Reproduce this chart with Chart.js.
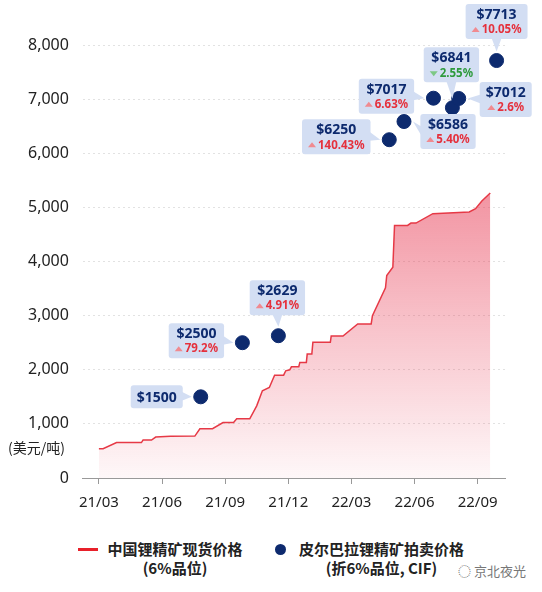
<!DOCTYPE html>
<html><head><meta charset="utf-8">
<script src="https://cdn.jsdelivr.net/npm/chart.js@4/dist/chart.umd.min.js"></script>
<style>
html,body{margin:0;padding:0;background:#fff;width:542px;height:592px;overflow:hidden;font-family:'Noto Sans','Noto Sans CJK SC',sans-serif;}
#wrap{position:absolute;left:0;top:0;width:542px;height:522px;}
.leg{position:absolute;font-weight:700;font-size:15px;color:#222;text-align:center;line-height:19px;font-family:'Noto Sans CJK SC',sans-serif;white-space:nowrap;}
</style></head><body>
<div id="wrap"><canvas id="c"></canvas></div>
<div style="position:absolute;left:78px;top:548px;width:20px;height:3px;background:#e8202a"></div>
<div class="leg" style="left:105px;top:539px;width:140px">中国锂精矿现货价格<br>(6%品位)</div>
<div style="position:absolute;left:275px;top:544px;width:11px;height:11px;border-radius:50%;background:#0d2a6e"></div>
<div class="leg" style="left:294px;top:539px;width:175px">皮尔巴拉锂精矿拍卖价格<br>(折6%品位, CIF)</div>
<div style="position:absolute;left:458px;top:561px;font-size:13px;color:#777;font-family:'Noto Sans CJK SC'">◌ 京北夜光</div>
<script>
// months since 2021/03
const spotMonths = [0,0.2,0.84,2.02,2.1,2.5,2.7,3.4,4.56,4.8,5.4,5.9,6.4,6.55,7.17,7.5,7.77,8.1,8.35,8.78,8.88,9.07,9.15,9.5,9.55,9.86,9.9,10.12,10.17,11.0,11.04,11.6,12.3,12.94,13.0,13.62,13.68,13.97,14.05,14.67,14.83,15.07,15.87,17.6,17.9,18.2,18.6];
const spotValues = [540,540,654,654,700,700,756,770,775,910,910,1025,1025,1093,1093,1333,1611,1673,1900,1900,1981,2000,2055,2055,2136,2136,2290,2290,2506,2506,2623,2623,2846,2846,3000,3512,3741,3895,4667,4667,4710,4710,4883,4914,4975,5117,5265];
const auctionMonths = [4.84,6.82,8.53,13.8,14.5,15.9,16.8,17.1,18.9];
const auctionValues = [1500,2500,2629,6250,6586,7017,6841,7012,7713];
const auctionChange = ['', '79.2%', '4.91%', '140.43%', '5.40%', '6.63%', '2.55%', '2.6%', '10.05%'];
const auctionDir = [0,1,1,1,1,1,-1,1,1];
const xTickMonths = [0,3,6,9,12,15,18];
const xTickLabels = ['21/03','21/06','21/09','21/12','22/03','22/06','22/09'];
// callout layout: center offset from dot, pointer side
const callout = [[-44,0,'r'],[-46,-2,'r'],[-1,-38,'d'],[-53,-3,'r'],[44,10,'l'],[-47,-2,'r'],[-1,-43,'d'],[47,1,'l'],[0,-39,'d']];

const NAVY='#0d2a6e', RED='#e5303c', GREEN='#2e9a3c', BOX='#d3def3';
function rr(ctx,x,y,w,h,r){ctx.beginPath();ctx.moveTo(x+r,y);ctx.arcTo(x+w,y,x+w,y+h,r);ctx.arcTo(x+w,y+h,x,y+h,r);ctx.arcTo(x,y+h,x,y,r);ctx.arcTo(x,y,x+w,y,r);ctx.closePath();}
const calloutPlugin={id:'callouts',afterDatasetsDraw(chart){
  const ctx=chart.ctx, xs=chart.scales.x, ys=chart.scales.y;
  ctx.save();
  ctx.font='14px "Noto Sans CJK SC"';ctx.fillStyle='#222';ctx.textAlign='left';ctx.textBaseline='middle';
  ctx.fillText('(美元/吨)',8,ys.getPixelForValue(1000)+24);
  auctionValues.forEach((v,i)=>{
    const px=xs.getPixelForValue(auctionMonths[i]), py=ys.getPixelForValue(v);
    const [dx,dy,side]=callout[i];
    const two=auctionChange[i]!=='';
    const label='$'+v;
    ctx.font='bold 14px "Noto Sans"';
    let w=Math.max(ctx.measureText(label).width+12,50);
    if(two){ctx.font='bold 11.5px "Noto Sans"';w=Math.max(w,ctx.measureText(auctionChange[i]).width+22);}
    const h=two?35:23;
    const cx=px+dx, cy=py+dy, bx=cx-w/2, by=cy-h/2;
    ctx.fillStyle=BOX;
    rr(ctx,bx,by,w,h,3);ctx.fill();
    ctx.beginPath();
    if(side==='r'){ctx.moveTo(bx+w-1,cy-5);ctx.lineTo(px-9,py);ctx.lineTo(bx+w-1,cy+4);}
    if(side==='l'){ctx.moveTo(bx+1,cy-5);ctx.lineTo(px+9,py);ctx.lineTo(bx+1,cy+4);}
    if(side==='d'){ctx.moveTo(cx-5,by+h-1);ctx.lineTo(px,py-9);ctx.lineTo(cx+5,by+h-1);}
    ctx.fill();
    ctx.textAlign='center';ctx.textBaseline='middle';
    ctx.fillStyle=NAVY;ctx.font='bold 14px "Noto Sans"';
    ctx.fillText(label,cx,two?by+11:cy+1);
    if(two){
      const up=auctionDir[i]>0;
      ctx.font='bold 11.5px "Noto Sans"';
      const tw=ctx.measureText(auctionChange[i]).width;
      const tx=cx+5, ty=by+26;
      ctx.fillStyle=up?RED:GREEN;
      ctx.fillText(auctionChange[i],tx,ty);
      const ax=tx-tw/2-6;
      ctx.fillStyle=up?'#f08a90':'#7cc884';
      ctx.beginPath();
      if(up){ctx.moveTo(ax-4,ty+2);ctx.lineTo(ax,ty-3);ctx.lineTo(ax+4,ty+2);}
      else{ctx.moveTo(ax-4,ty-2);ctx.lineTo(ax,ty+3);ctx.lineTo(ax+4,ty-2);}
      ctx.fill();
    }
  });
  ctx.restore();
}};

const ctx=document.getElementById('c');
new Chart(ctx,{
  type:'scatter',
  data:{datasets:[
    {type:'line',data:spotMonths.map((m,i)=>({x:m,y:spotValues[i]})),borderColor:'#e63946',borderWidth:1.5,pointRadius:0,tension:0,fill:'origin',
     backgroundColor:(c)=>{const a=c.chart.chartArea;if(!a)return 'rgba(230,57,70,0.3)';const g=c.chart.ctx.createLinearGradient(0,c.chart.scales.y.getPixelForValue(5300),0,a.bottom);g.addColorStop(0,'rgba(232,60,85,0.55)');g.addColorStop(1,'rgba(232,60,85,0.04)');return g;},order:2},
    {data:auctionMonths.map((m,i)=>({x:m,y:auctionValues[i]})),backgroundColor:NAVY,borderColor:NAVY,pointRadius:7,pointHoverRadius:7,order:1}
  ]},
  options:{
    responsive:true,maintainAspectRatio:false,animation:false,
    layout:{padding:{left:14,right:37,top:45,bottom:0}},
    plugins:{legend:{display:false},tooltip:{enabled:false}},
    scales:{
      x:{type:'linear',min:-0.76,max:19.3,afterBuildTicks:(s)=>{s.ticks=xTickMonths.map(v=>({value:v}));},
        ticks:{callback:(v)=>xTickLabels[xTickMonths.indexOf(v)],font:{size:15,family:'Noto Sans'},color:'#222',padding:10,maxRotation:0,autoSkip:false},
        grid:{display:true,drawOnChartArea:false,drawTicks:true,tickLength:6,color:'#999'},border:{color:'#999'}},
      y:{min:0,max:8000,afterBuildTicks:(s)=>{s.ticks=[0,1000,2000,3000,4000,5000,6000,7000,8000].map(v=>({value:v}));},
        ticks:{callback:(v)=>v.toLocaleString('en-US'),font:{size:16,family:'Noto Sans'},color:'#222',padding:14},
        grid:{color:(c)=>c.tick.value===0?'rgba(0,0,0,0)':'#e2e2e2',drawTicks:false},border:{display:false,dash:[2,3]}}
    }
  },
  plugins:[calloutPlugin]
});
</script></body></html>
